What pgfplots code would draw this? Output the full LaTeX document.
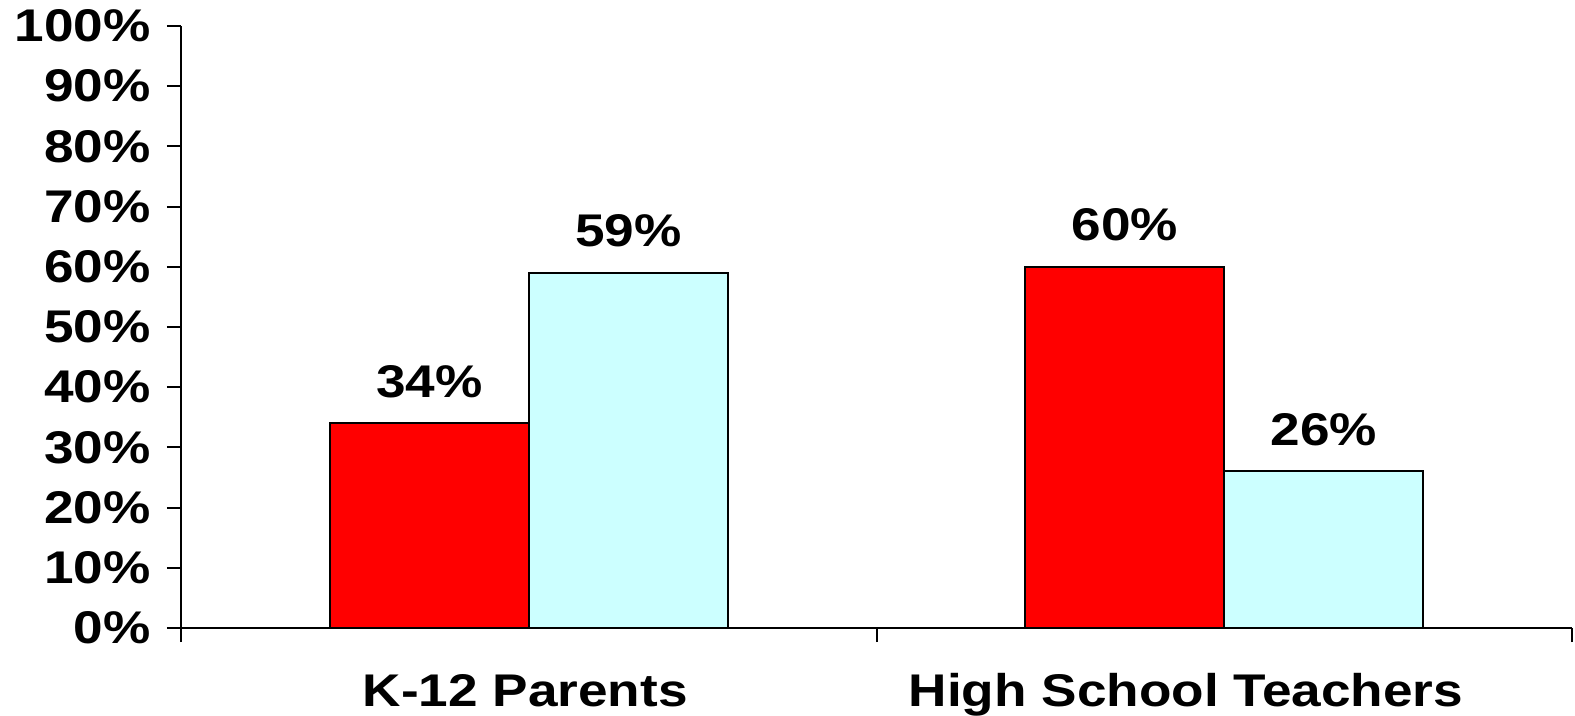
\documentclass[border=0pt]{standalone}
\usepackage{fontspec}
\setmainfont{Liberation Sans}
\usepackage{graphicx}
\usepackage{pgfplots}
\pgfplotsset{compat=1.18}
\definecolor{barred}{HTML}{FF0000}
\definecolor{barcyan}{HTML}{CCFFFF}
\newcommand{\lbl}[1]{\scalebox{1.16}[1]{#1}}
\begin{document}
\begin{tikzpicture}
\begin{axis}[
  name=ax,
  scale only axis,
  width=1391bp, height=602bp,
  xmin=-0.5, xmax=1.5,
  ymin=0, ymax=100,
  axis lines*=left,
  axis line style={line width=2bp},
  tick style={line width=2bp, black},
  tick align=outside,
  major tick length=14bp,
  /pgf/number format/assume math mode=true,
  font=\bfseries\fontsize{46}{46}\selectfont,
  ytick={0,10,...,100},
  yticklabel={\lbl{\pgfmathprintnumber{\tick}\%}},
  yticklabel style={inner sep=0pt, xshift=-16bp},
  xtick={-0.5,0.5,1.5},
  xticklabels={},
  extra x ticks={-0.005,0.945},
  extra x tick labels={\lbl{K-12 Parents},\lbl{High School Teachers}},
  extra x tick style={major tick length=0pt, xticklabel style={anchor=base, yshift=-78bp}},
  ybar,
  bar width=0.286,
  point meta=y,
  nodes near coords={\lbl{\pgfmathprintnumber{\pgfplotspointmeta}\%}},
  nodes near coords style={anchor=base, inner sep=0pt, yshift=26bp, font=\bfseries\fontsize{46}{46}\selectfont},
]
\addplot[fill=barred, draw=black, line width=2bp, bar shift=-0.143] coordinates {(0,34) (1,60)};
\addplot[fill=barcyan, draw=black, line width=2bp, bar shift=0.143] coordinates {(0,59) (1,26)};
\end{axis}
\pgfresetboundingbox
\path ([xshift=-181bp,yshift=-87bp]ax.south west) rectangle ([xshift=3bp,yshift=26bp]ax.north east);
\end{tikzpicture}
\end{document}
